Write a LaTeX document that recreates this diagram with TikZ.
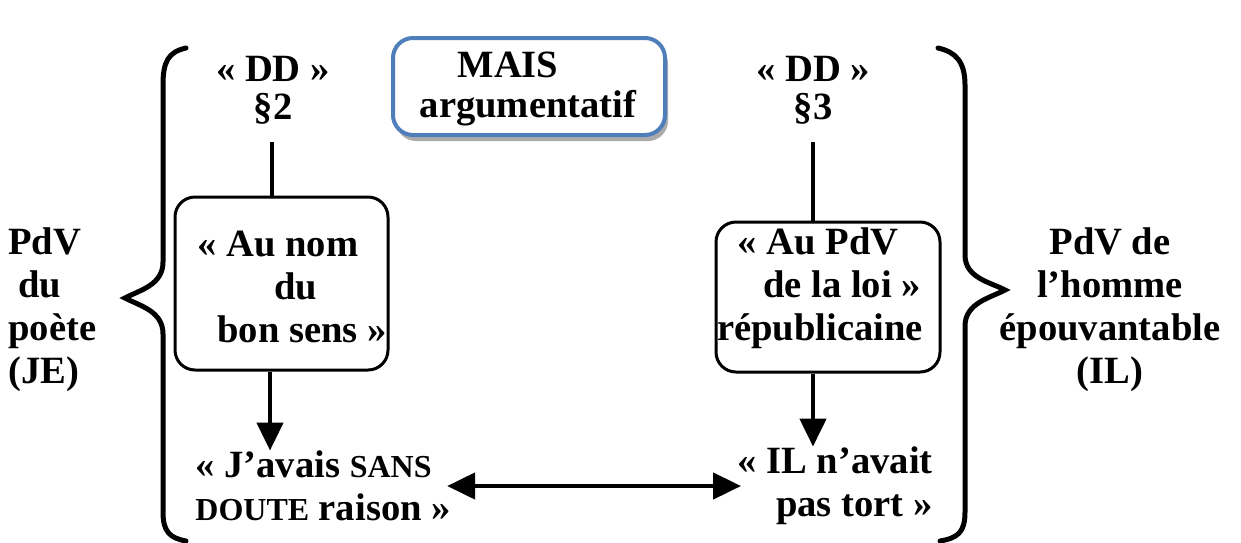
\documentclass[tikz,border=0pt]{standalone}
\usepackage{fontspec}
\setmainfont{Liberation Serif}
\usetikzlibrary{arrows.meta,shadows}
\definecolor{maisblue}{HTML}{4F7FBA}
\begin{document}
\begin{tikzpicture}[x=0.5pt,y=-0.5pt,
  txt/.style={font=\bfseries\fontsize{19.3}{21.5}\selectfont,inner sep=0pt},
  blk/.style={draw,line width=1.5pt,rounded corners=10pt,inner sep=0pt},
  ln/.style={line width=2.3pt},
  arr/.style={ln,-{Triangle[length=14pt,width=13pt]}},
  brace/.style={line width=2.5pt,line cap=round}]
\useasboundingbox (0,0) rectangle (1241,542);
% braces
\draw[brace] (186,48) .. controls (168,52) and (163,62) .. (163,85) -- (163,262)
  .. controls (163,285) and (140,290) .. (125,298)
  .. controls (140,306) and (163,311) .. (163,334) -- (163,512)
  .. controls (163,532) and (170,538) .. (186,541);
\draw[brace] (938,48) .. controls (956,52) and (965,62) .. (965,85) -- (965,255)
  .. controls (965,278) and (990,282) .. (1005,290)
  .. controls (990,298) and (965,303) .. (965,326) -- (965,512)
  .. controls (965,532) and (958,538) .. (940,541);
% top nodes
\node[txt,align=center,font=\bfseries\fontsize{19.3}{19}\selectfont] (dd2) at (273,90) {« DD »\\§2};
\node[txt,align=center,font=\bfseries\fontsize{19.3}{19}\selectfont] (dd3) at (813,90) {« DD »\\§3};
\node[draw=maisblue,line width=2pt,rounded corners=10pt,fill=white,
  minimum width=136pt,minimum height=48.5pt,
  drop shadow={shadow xshift=1.5pt,shadow yshift=-3pt,opacity=0.6,fill=black!55}] (mais) at (529,86.5) {};
\node[txt,align=center,font=\bfseries\fontsize{19.3}{20}\selectfont] (maist) at (528,89)
  {MAIS\hspace*{20pt}\\argumentatif};
% boxes
\node[blk,minimum width=106.5pt,minimum height=86.5pt] (b1) at (281.5,283.5) {};
\node[txt,align=center] (b1t) at (290,287)
  {\hspace*{-12pt}« Au nom\\\hspace*{6pt}du\\\hspace*{12pt}bon sens »};
\node[blk,minimum width=112pt,minimum height=75pt] (b2) at (828,297) {};
\node[txt,align=center] (b2t) at (820,288)
  {« Au PdV\hspace*{2pt}\\\hspace*{22pt}de la loi »\\républicaine};
% bottom texts
\node[txt,align=left,anchor=west] (jav) at (195,486)
  {« J’avais {\fontsize{16}{21}\selectfont SANS}\\{\fontsize{16}{21}\selectfont DOUTE} raison »};
\node[txt,align=right,anchor=east] (il) at (933,486)
  {« IL n’avait\\pas tort »};
% side texts
\node[txt,align=left,anchor=west] (je) at (8,310) {PdV\\\ du\\poète\\(JE)};
\node[txt,align=center] (ilh) at (1110,310) {PdV de\\l’homme\\épouvantable\\(IL)};
% connectors
\draw[ln] ([yshift=-9pt]dd2.south -| 272,0) -- (b1.north -| 272,0);
\draw[arr] (b1.south -| 270,0) -- (jav.north -| 270,0);
\draw[ln] ([yshift=-9pt]dd3.south -| 813,0) -- (b2.north -| 813,0);
\draw[arr] (b2.south -| 813,0) -- (il.north -| 813,0);
\draw[ln,{Triangle[length=14pt,width=13pt]}-{Triangle[length=14pt,width=13pt]}] ([xshift=-2pt]jav.east) -- ([xshift=2pt]il.west);
\end{tikzpicture}
\end{document}
